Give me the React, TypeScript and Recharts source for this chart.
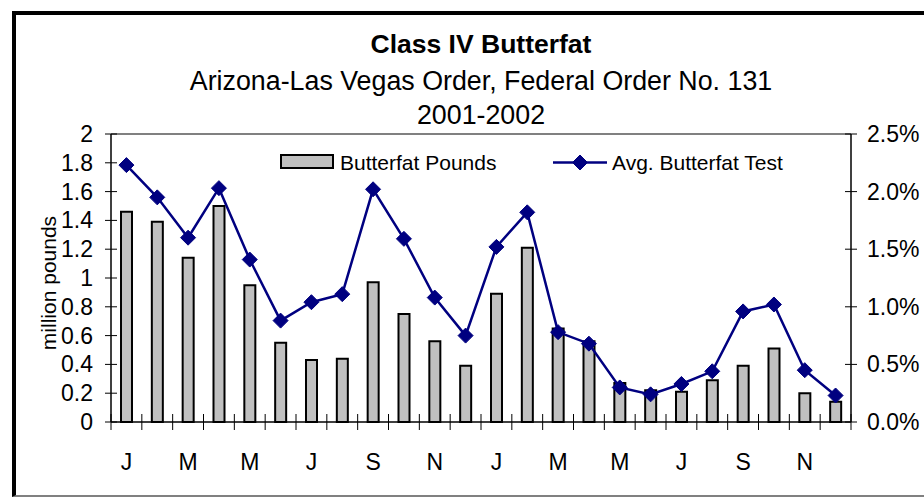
import React from "react";
import {
  ComposedChart,
  Bar,
  Line,
  XAxis,
  YAxis,
  Legend,
  ReferenceLine,
  Label,
} from "recharts";

// months, Jan 2001 .. Dec 2002
const months = [
  "J", "F", "M", "A", "M", "J", "J", "A", "S", "O", "N", "D",
  "J", "F", "M", "A", "M", "J", "J", "A", "S", "O", "N", "D",
];

// million pounds
const butterfatPounds = [
  1.46, 1.39, 1.14, 1.5, 0.95, 0.55, 0.43, 0.44, 0.97, 0.75, 0.56, 0.39,
  0.89, 1.21, 0.65, 0.56, 0.27, 0.22, 0.21, 0.29, 0.39, 0.51, 0.2, 0.14,
];

// percent
const avgButterfatTest = [
  2.23, 1.95, 1.6, 2.03, 1.41, 0.88, 1.04, 1.11, 2.02, 1.59, 1.08, 0.75,
  1.52, 1.82, 0.78, 0.68, 0.3, 0.24, 0.33, 0.44, 0.96, 1.02, 0.45, 0.23,
];

const leftTicks = [0, 0.2, 0.4, 0.6, 0.8, 1, 1.2, 1.4, 1.6, 1.8, 2];
const rightTicks = [0, 0.5, 1, 1.5, 2, 2.5];

const data = months.map((m, i) => ({
  month: m,
  pounds: butterfatPounds[i],
  test: avgButterfatTest[i],
}));

const FONT = '"Liberation Sans", Arial, Helvetica, sans-serif';
const NAVY = "#000080";
const BAR_GRAY = "#C0C0C0";

const W = 924;
const H = 497;
const LEFT_W = 111;
const RIGHT_W = 73;
const TOP = 134;
const X_AXIS_H = 75;

const Diamond = (props: any) => {
  const { cx, cy } = props;
  if (cx == null || cy == null) return null;
  const r = 7.5;
  return (
    <polygon
      points={`${cx},${cy - r} ${cx + r},${cy} ${cx},${cy + r} ${cx - r},${cy}`}
      fill={NAVY}
      stroke={NAVY}
    />
  );
};

const XTick = (props: any) => {
  const { x, y, payload, index } = props;
  const idx = payload?.index ?? index;
  const half = payload?.offset || (W - LEFT_W - RIGHT_W) / months.length / 2;
  const axisY = y - 10;
  return (
    <g>
      <line x1={x - half} x2={x - half} y1={axisY - 8} y2={axisY + 8} stroke="#000" strokeWidth={1} />
      {idx === months.length - 1 && (
        <line x1={x + half} x2={x + half} y1={axisY - 8} y2={axisY + 8} stroke="#000" strokeWidth={1} />
      )}
      {idx % 2 === 0 && (
        <text x={x} y={y + 38} textAnchor="middle" fontSize={23} fontFamily={FONT} fill="#000">
          {payload.value}
        </text>
      )}
    </g>
  );
};

const LeftTick = (props: any) => {
  const { x, y, payload } = props;
  const axisX = x + 18;
  return (
    <g>
      <line x1={axisX - 6} x2={axisX + 6} y1={y} y2={y} stroke="#000" strokeWidth={1} />
      <text x={x} y={y + 8} textAnchor="end" fontSize={23} fontFamily={FONT} fill="#000">
        {String(payload.value)}
      </text>
    </g>
  );
};

const RightTick = (props: any) => {
  const { x, y, payload } = props;
  const axisX = x - 16;
  return (
    <g>
      <line x1={axisX - 6} x2={axisX + 6} y1={y} y2={y} stroke="#000" strokeWidth={1} />
      <text x={x} y={y + 8} textAnchor="start" fontSize={23} fontFamily={FONT} fill="#000">
        {Number(payload.value).toFixed(1) + "%"}
      </text>
    </g>
  );
};

const LegendBox = () => (
  <svg width={W} height={30} style={{ display: "block" }}>
    <rect x={281} y={7} width={52} height={13} fill={BAR_GRAY} stroke="#000" strokeWidth={2} />
    <text x={340} y={22} fontSize={21} fontFamily={FONT} fill="#000">
      Butterfat Pounds
    </text>
    <line x1={553} x2={607} y1={14.5} y2={14.5} stroke={NAVY} strokeWidth={2.5} />
    <Diamond cx={580} cy={14.5} />
    <text x={612} y={22} fontSize={21} fontFamily={FONT} fill="#000">
      Avg. Butterfat Test
    </text>
  </svg>
);

export default function App() {
  return (
    <div
      style={{
        position: "absolute",
        left: 0,
        top: 0,
        width: W,
        height: H,
        overflow: "hidden",
        background: "#fff",
        fontFamily: FONT,
      }}
    >
      <div
        style={{
          position: "absolute",
          left: 12,
          top: 11,
          width: W,
          height: H - 11,
          boxSizing: "border-box",
          borderTop: "4px solid #000",
          borderLeft: "4px solid #000",
          borderBottom: "2px solid #808080",
        }}
      />
      <svg width={W} height={130} style={{ position: "absolute", left: 0, top: 0 }}>
        <text x={481} y={53} textAnchor="middle" fontSize={26.5} fontWeight="bold" fontFamily={FONT}>
          Class IV Butterfat
        </text>
        <text x={481} y={90} textAnchor="middle" fontSize={26.8} fontFamily={FONT}>
          Arizona-Las Vegas Order, Federal Order No. 131
        </text>
        <text x={481} y={124} textAnchor="middle" fontSize={26.8} fontFamily={FONT}>
          2001-2002
        </text>
      </svg>
      <div style={{ position: "absolute", left: 0, top: 0 }}>
        <ComposedChart
          width={W}
          height={H}
          data={data}
          margin={{ top: TOP, right: 0, bottom: 0, left: 0 }}
          barCategoryGap={0}
        >
          <XAxis
            dataKey="month"
            interval={0}
            height={X_AXIS_H}
            tickLine={false}
            tickSize={8}
            tickMargin={2}
            axisLine={{ stroke: "#000", strokeWidth: 1.5 }}
            tick={<XTick />}
          />
          <YAxis
            yAxisId="left"
            orientation="left"
            width={LEFT_W}
            domain={[0, 2]}
            ticks={leftTicks}
            interval={0}
            tickLine={false}
            tickSize={6}
            tickMargin={12}
            axisLine={{ stroke: "#000", strokeWidth: 1.5 }}
            tick={<LeftTick />}
          >
            <Label
              value="million pounds"
              angle={-90}
              position="center"
              dx={-7}
              dy={5}
              fontSize={21}
              fontFamily={FONT}
              fill="#000"
            />
          </YAxis>
          <YAxis
            yAxisId="right"
            orientation="right"
            width={RIGHT_W}
            domain={[0, 2.5]}
            ticks={rightTicks}
            interval={0}
            tickLine={false}
            tickSize={6}
            tickMargin={10}
            axisLine={{ stroke: "#000", strokeWidth: 1.5 }}
            tick={<RightTick />}
          />
          <ReferenceLine yAxisId="left" y={2} stroke="#808080" strokeWidth={2} />
          <Legend
            layout="horizontal"
            verticalAlign="middle"
            align="center"
            wrapperStyle={{ top: 148, left: 0, width: W, height: 30 }}
            content={() => <LegendBox />}
          />
          <Bar
            yAxisId="left"
            dataKey="pounds"
            name="Butterfat Pounds"
            fill={BAR_GRAY}
            stroke="#000"
            strokeWidth={2}
            barSize={11}
            isAnimationActive={false}
          />
          <Line
            yAxisId="right"
            type="linear"
            dataKey="test"
            name="Avg. Butterfat Test"
            stroke={NAVY}
            strokeWidth={2.5}
            dot={<Diamond />}
            activeDot={false}
            isAnimationActive={false}
          />
        </ComposedChart>
      </div>
    </div>
  );
}
